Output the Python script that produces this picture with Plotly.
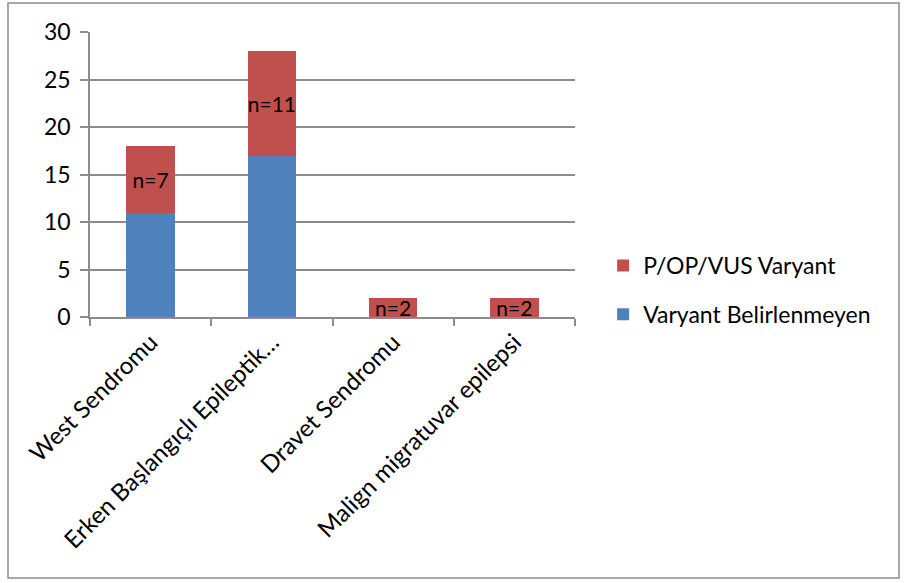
import plotly.graph_objects as go

# Epilepsy syndrome groups and patient counts per variant status
categories = ["West Sendromu", "Erken Başlangıçlı Epileptik…", "Dravet Sendromu", "Malign migratuvar epilepsi"]
no_variant = [11, 17, 0, 0]
pathogenic_variant = [7, 11, 2, 2]
series_names = ["Varyant Belirlenmeyen", "P/OP/VUS Varyant"]
y_ticks = [0, 5, 10, 15, 20, 25, 30]

BLUE = "#4F81BD"
RED = "#C0504D"
GRID = "#8C8C8C"
FONT = "Lato, 'Open Sans', sans-serif"

fig = go.Figure()
fig.add_trace(go.Bar(
    x=categories, y=no_variant, name=series_names[0],
    legendgroup="a", legendrank=2,
    marker=dict(color=BLUE, line=dict(width=0)),
))
fig.add_trace(go.Bar(
    x=categories, y=pathogenic_variant, name=series_names[1],
    legendgroup="b", legendrank=1,
    marker=dict(color=RED, line=dict(width=0)),
    text=[f"n={v}" for v in pathogenic_variant],
    textposition="inside", insidetextanchor="middle", textangle=0,
    textfont=dict(color="black", size=21, family=FONT),
    cliponaxis=False,
))

fig.update_layout(
    width=904, height=583,
    barmode="stack", bargap=0.6,
    margin=dict(l=90, r=329, t=32, b=266),
    paper_bgcolor="white", plot_bgcolor="white",
    font=dict(family=FONT, size=22, color="black"),
    uniformtext=dict(minsize=21, mode="show"),
    legend=dict(
        traceorder="grouped", x=1.058, y=0.095, xanchor="left", yanchor="middle",
        font=dict(size=23), tracegroupgap=16, itemwidth=30,
    ),
    showlegend=True,
)
fig.update_yaxes(
    range=[0, 30], tickvals=y_ticks, showgrid=True, gridcolor=GRID, gridwidth=1.5,
    showline=True, linecolor=GRID, linewidth=1.5,
    ticks="outside", ticklen=8, tickcolor=GRID, tickwidth=1.5,
    ticklabelstandoff=5, zeroline=False, tickfont=dict(size=23),
)
fig.update_xaxes(
    tickangle=-45, showline=True, linecolor=GRID, linewidth=1.5,
    ticks="outside", tickson="boundaries", ticklen=7, tickcolor=GRID, tickwidth=1.5,
    showgrid=False, tickfont=dict(size=24),
)

# Outer frame around the chart
fig.add_shape(
    type="rect", xref="paper", yref="paper",
    x0=-82 / 485, x1=809 / 485, y0=-261 / 285, y1=314 / 285,
    line=dict(color=GRID, width=1.5), fillcolor="rgba(0,0,0,0)", layer="below",
)

fig.write_html("out.html")
